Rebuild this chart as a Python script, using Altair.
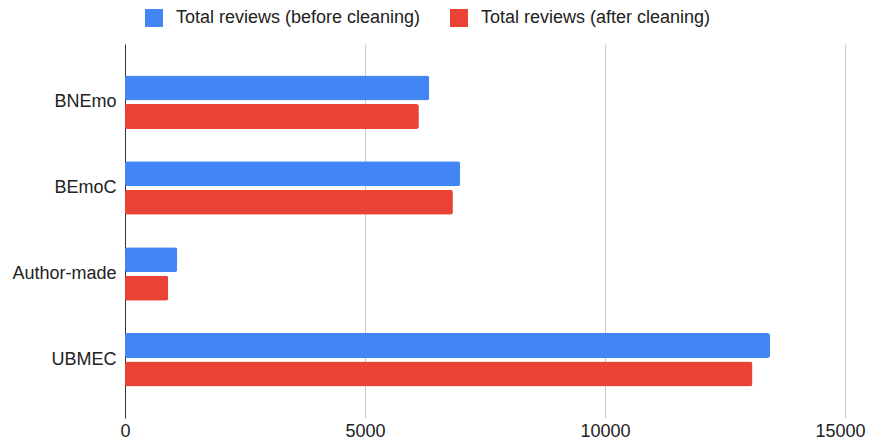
import altair as alt
import pandas as pd

categories = ["BNEmo", "BEmoC", "Author-made", "UBMEC"]
series_names = ["Total reviews (before cleaning)", "Total reviews (after cleaning)"]
before_cleaning = [6337, 6983, 1089, 13438]
after_cleaning = [6122, 6831, 902, 13072]
x_ticks = [0, 5000, 10000, 15000]
colors = ["#4285F4", "#EA4335"]

rows = []
for c, b, a in zip(categories, before_cleaning, after_cleaning):
    rows.append({"category": c, "series": series_names[0], "value": b})
    rows.append({"category": c, "series": series_names[1], "value": a})
df = pd.DataFrame(rows)

FONT = "Liberation Sans"

chart = alt.Chart(df).mark_bar(cornerRadius=2.5).encode(
    y=alt.Y("category:N", sort=categories, title=None,
            scale=alt.Scale(paddingInner=0.376, paddingOuter=0.366),
            axis=alt.Axis(labelFontSize=18, labelColor="#222222", labelFont=FONT,
                          ticks=False, labelPadding=9, domain=True,
                          domainColor="#333333", domainWidth=1, grid=False)),
    yOffset=alt.YOffset("series:N", sort=series_names,
                        scale=alt.Scale(paddingInner=0.126, paddingOuter=0)),
    x=alt.X("value:Q", title=None,
            scale=alt.Scale(domain=[0, 15000], nice=False),
            axis=alt.Axis(values=x_ticks, format="d", labelFontSize=18,
                          labelColor="#222222", labelFont=FONT, ticks=False,
                          domain=False, grid=True, gridColor="#cccccc",
                          labelPadding=4, labelFlush=False,
                          labelOffset={"condition": {"test": "datum.value >= 15000", "value": -5},
                                       "value": 0})),
    color=alt.Color("series:N", sort=series_names,
                    scale=alt.Scale(domain=series_names, range=colors),
                    legend=alt.Legend(orient="none", legendX=20, legendY=-35,
                                      direction="horizontal", title=None,
                                      symbolType="square", symbolSize=324,
                                      symbolStrokeWidth=0, labelFontSize=18,
                                      labelFont=FONT, labelColor="#222222",
                                      labelLimit=0,
                                      labelOffset=13, columnPadding=29)),
).properties(
    width=720, height=374,
    autosize=alt.AutoSizeParams(type="none"),
    padding={"left": 117, "top": 36, "right": 21, "bottom": 22},
).configure_view(stroke=None)

chart.save("out.html", embed_options={"renderer": "svg", "actions": False})
